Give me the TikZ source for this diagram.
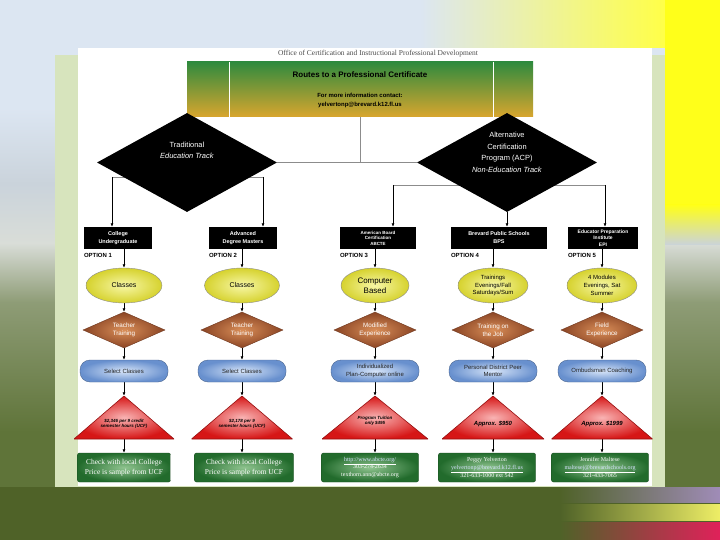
\documentclass[tikz,border=0pt]{standalone}
\usepackage{fontspec}
\setmainfont{Liberation Sans}
\newfontfamily\serifface{Liberation Serif}
\usetikzlibrary{shapes.geometric,arrows.meta}

\definecolor{bgblue}{HTML}{DCE6F2}
\definecolor{bggray}{HTML}{CAD3DB}
\definecolor{bgpale}{HTML}{D9DDD8}
\definecolor{bgsage}{HTML}{8E9C76}
\definecolor{bgolive}{HTML}{5F7439}
\definecolor{bandgreen}{HTML}{4F6228}
\definecolor{panelgreen}{HTML}{D7E4BD}
\definecolor{slideyellow}{HTML}{FFFF1A}
\definecolor{barpurple}{HTML}{A08CB8}
\definecolor{baryellow}{HTML}{EEEE66}
\definecolor{barred}{HTML}{E0215A}
\definecolor{headgreen}{HTML}{2F8A3E}
\definecolor{headmid}{HTML}{8E9C3A}
\definecolor{headgold}{HTML}{D9A62E}
\definecolor{ovalin}{HTML}{F7F7A6}
\definecolor{ovalout}{HTML}{D6D22E}
\definecolor{expin}{HTML}{D98E58}
\definecolor{expout}{HTML}{8A4424}
\definecolor{planin}{HTML}{D6E4F8}
\definecolor{planout}{HTML}{6890CE}
\definecolor{costin}{HTML}{F9B4B4}
\definecolor{costout}{HTML}{D61616}
\definecolor{infoin}{HTML}{8FC48F}
\definecolor{infoout}{HTML}{226B2C}
\definecolor{mailblue}{HTML}{D6E2FF}

\pgfdeclareverticalshading{slidebg}{100bp}{color(0bp)=(bgolive); color(35bp)=(bgolive); color(47bp)=(bgsage); color(52.5bp)=(bgpale); color(58bp)=(bggray); color(65bp)=(bgblue); color(100bp)=(bgblue)}

\pgfdeclarelayer{bg}
\pgfsetlayers{bg,main}

\tikzset{
  conn/.style={draw=black!45, line width=0.6bp},
  arr/.style={draw=black, line width=0.6bp, -{Latex[length=3.5bp,width=3bp]}},
  headbox/.style={minimum width=346bp, minimum height=55bp, inner sep=0pt, align=center,
    top color=headgreen, middle color=headmid, bottom color=headgold},
  trackdia/.style={diamond, fill=black, inner sep=0pt, minimum width=180bp, minimum height=99bp},
  tracktext/.style={text=white, align=center, inner sep=0pt, yshift=10bp,
    font=\fontsize{7.5}{11.5}\selectfont},
  optbox/.style={fill=black, text=white, align=center, inner sep=0pt, minimum height=22bp,
    font=\bfseries\fontsize{5.5}{8}\selectfont},
  optlabel/.style={anchor=north west, inner sep=0pt, font=\bfseries\fontsize{6}{6.5}\selectfont},
  oval/.style={ellipse, draw=black!45, line width=0.4bp, inner color=ovalin, outer color=ovalout,
    minimum height=35bp, inner sep=0pt, align=center, font=\fontsize{6}{7.8}\selectfont},
  expdia/.style={diamond, aspect=2.3, draw=expout!80!black, line width=0.4bp, inner color=expin,
    outer color=expout, minimum width=82bp, minimum height=36bp, inner sep=0pt, align=center,
    text=white, font=\fontsize{6.3}{8}\selectfont},
  planbox/.style={rectangle, rounded corners=10bp, draw=planout!70!black, line width=0.4bp,
    inner color=planin, outer color=planout, minimum height=22bp, minimum width=88bp,
    inner sep=0pt, align=center, text=black!85, font=\fontsize{6}{7.5}\selectfont},
  costtri/.style={minimum height=43bp, inner sep=0pt, path picture={
    \shade[inner color=costin, outer color=costout] (path picture bounding box.north)
      -- (path picture bounding box.south east) -- (path picture bounding box.south west) -- cycle;
    \draw[costout!70!black, line width=0.6bp] (path picture bounding box.north)
      -- (path picture bounding box.south east) -- (path picture bounding box.south west) -- cycle;}},
  costtext/.style={align=center, inner sep=0pt, yshift=-6bp,
    font=\bfseries\itshape\fontsize{4.5}{5.2}\selectfont},
  infobox/.style={rectangle, rounded corners=2bp, draw=infoout!70!black, line width=0.4bp,
    inner color=infoin, outer color=infoout, minimum height=29bp, minimum width=97bp,
    inner sep=1bp, align=center, text=white, font=\serifface\fontsize{6}{7.8}\selectfont},
  mail/.style={text=mailblue}
}

\begin{document}
\begin{tikzpicture}[x=1bp,y=-1bp]
\useasboundingbox (0,0) rectangle (720,540);

\begin{pgfonlayer}{bg}
  % slide
  \shade[shading=slidebg] (0,0) rectangle (720,540);
  \shade[left color=bgblue, right color=slideyellow!80!white] (420,0) rectangle (665,48);
  \fill[slideyellow] (665,0) rectangle (720,205);
  \shade[top color=slideyellow, bottom color=bggray] (665,205) rectangle (720,245);
  \fill[bandgreen] (0,487) rectangle (720,540);
  \shade[left color=bandgreen, right color=barpurple] (560,487) rectangle (720,502);
  \shade[left color=bandgreen, right color=baryellow] (560,504) rectangle (720,520);
  \shade[left color=bandgreen, right color=barred] (560,522) rectangle (720,540);
  \fill[panelgreen] (55,55) rectangle (665,487);
  \fill[white] (78,48) rectangle (652,486);
\end{pgfonlayer}

\node[font=\serifface\fontsize{7.5}{8}\selectfont, text=black!70] (title) at (378,54)
  {Office of Certification and Instructional Professional Development};

\node[headbox, font=\bfseries\fontsize{6}{8.5}\selectfont] (head) at (360,89.5)
  {{\fontsize{8}{9}\selectfont Routes to a Professional Certificate}\\[12bp]
   For more information contact:\\
   yelvertonp@brevard.k12.fl.us};
\draw[white, line width=0.8bp] (229,62) -- (229,117);
\draw[white, line width=0.8bp] (493,62) -- (493,117);

\node[trackdia, label={[tracktext, yshift=2bp]center:{Traditional\\\textit{Education Track}}}]
  (trad) at (187,162.5) {};
\node[trackdia, label={[tracktext]center:{Alternative\\Certification\\Program (ACP)\\\textit{Non-Education Track}}}]
  (alt) at (507,162.5) {};

% options
\node[optbox, minimum width=68bp] (opt1) at (118,238) {College\\Undergraduate};
\node[optbox, minimum width=68bp] (opt2) at (243,238) {Advanced\\Degree Masters};
\node[optbox, minimum width=76bp, font=\bfseries\fontsize{4.5}{5.5}\selectfont] (opt3) at (378,238)
  {American Board\\Certification\\ABCTE};
\node[optbox, minimum width=96bp] (opt4) at (499,238) {Brevard Public Schools\\BPS};
\node[optbox, minimum width=70bp, font=\bfseries\fontsize{5}{6.5}\selectfont] (opt5) at (603,238)
  {Educator Preparation\\Institute\\EPI};

\foreach \i in {1,...,5}
  \node[optlabel] (lab\i) at ([yshift=-4bp]opt\i.south west) {OPTION \i};

\node[oval, minimum width=76bp, font=\fontsize{7}{8}\selectfont] (oval1) at (124,285.5) {Classes};
\node[oval, minimum width=75bp, font=\fontsize{7}{8}\selectfont] (oval2) at (242,285.5) {Classes};
\node[oval, minimum width=68bp, font=\fontsize{8}{10}\selectfont] (oval3) at (375,285.5) {Computer\\Based};
\node[oval, minimum width=70bp] (oval4) at (493,285.5) {Trainings\\Evenings/Fall\\Saturdays/Sum};
\node[oval, minimum width=70bp] (oval5) at (602,285.5) {4 Modules\\Evenings, Sat\\Summer};

\node[expdia] (exp1) at (124,330) {Teacher\\Training};
\node[expdia] (exp2) at (242,330) {Teacher\\Training};
\node[expdia] (exp3) at (375,330) {Modified\\Experience};
\node[expdia] (exp4) at (493,330) {Training on\\the Job};
\node[expdia] (exp5) at (602,330) {Field\\Experience};

\node[planbox] (plan1) at (124,371) {Select Classes};
\node[planbox] (plan2) at (242,371) {Select Classes};
\node[planbox] (plan3) at (375,371) {Individualized\\Plan-Computer online};
\node[planbox] (plan4) at (493,371) {Personal District Peer\\Mentor};
\node[planbox] (plan5) at (602,371) {Ombudsman Coaching};

\node[costtri, minimum width=100bp, label={[costtext]center:{\$2,346 per 9 credit\\semester hours (UCF)}}]
  (cost1) at (124,417.5) {};
\node[costtri, minimum width=101bp, label={[costtext]center:{\$2,178 per 9\\semester hours (UCF)}}]
  (cost2) at (242,417.5) {};
\node[costtri, minimum width=106bp, label={[costtext, yshift=3bp]center:{Program Tuition\\only \$495}}]
  (cost3) at (375,417.5) {};
\node[costtri, minimum width=102bp, label={[costtext, font=\bfseries\itshape\fontsize{6}{7}\selectfont]center:{Approx. \$950}}]
  (cost4) at (493,417.5) {};
\node[costtri, minimum width=101bp, label={[costtext, font=\bfseries\itshape\fontsize{6}{7}\selectfont]center:{Approx. \$1999}}]
  (cost5) at (602,417.5) {};

\node[infobox, minimum width=93bp, font=\serifface\fontsize{7.5}{9.5}\selectfont] (info1) at (124,467.5)
  {Check with local College\\Price is sample from UCF};
\node[infobox, minimum width=99bp, font=\serifface\fontsize{7.5}{9.5}\selectfont] (info2) at (244,467.5)
  {Check with local College\\Price is sample from UCF};
\node[infobox] (info3) at (370,467.5)
  {\underline{\textcolor{mailblue}{http://www.abcte.org/}}\\303-274-2634\\texthorn.ann@abcte.org};
\node[infobox] (info4) at (487,467.5)
  {Peggy Yelverton\\\underline{\textcolor{mailblue}{yelvertonp@brevard.k12.fl.us}}\\321-633-1000 ext 542};
\node[infobox] (info5) at (600,467.5)
  {Jennifer Maltese\\\underline{\textcolor{mailblue}{maltesej@brevardschools.org}}\\321-433-7065};

\begin{pgfonlayer}{bg}
  \coordinate (tradL) at (112,177);
  \coordinate (tradR) at (263,177);
  \coordinate (altL) at (393,185);
  \coordinate (altR) at (605,185);
  \draw[conn] (head.south) -- (head.south |- trad.east);
  \draw[conn] (trad.east) -- (alt.west);
  \draw[conn] (tradL) -- (tradR);
  \draw[conn] (altL) -- (altR);
  \draw[arr] (tradL) -- (tradL |- opt1.north);
  \draw[arr] (tradR) -- (tradR |- opt2.north);
  \draw[arr] (altL) -- (altL |- opt3.north);
  \draw[arr] (alt.south) -- (alt.south |- opt4.north);
  \draw[arr] (altR) -- (altR |- opt5.north);

  \foreach \i in {1,...,5}{
    \draw[arr] (oval\i.north |- opt\i.south) -- (oval\i.north);
    \draw[arr] (oval\i.south) -- (exp\i.north);
    \draw[arr] (exp\i.south) -- (plan\i.north);
    \draw[arr] (plan\i.south) -- (cost\i.north);
    \draw[arr] (cost\i.south) -- (cost\i.south |- info\i.north);
  }
\end{pgfonlayer}
\end{tikzpicture}
\end{document}
